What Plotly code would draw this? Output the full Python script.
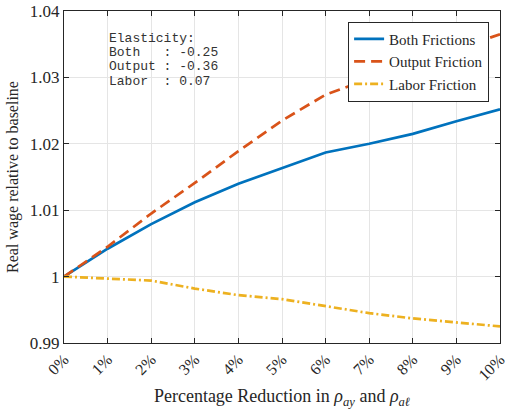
import plotly.graph_objects as go

x_vals = [0, 1, 2, 3, 4, 5, 6, 7, 8, 9, 10]
x_labels = ["0%", "1%", "2%", "3%", "4%", "5%", "6%", "7%", "8%", "9%", "10%"]
both = [1.0000, 1.0042, 1.0079, 1.0112, 1.0140, 1.0164, 1.0187, 1.0200, 1.0215, 1.0234, 1.0252]
output = [1.0000, 1.0045, 1.0095, 1.0141, 1.0189, 1.0235, 1.0274, 1.0298, 1.0320, 1.0342, 1.0365]
labor = [1.0000, 0.9997, 0.9994, 0.9982, 0.9972, 0.9966, 0.9956, 0.9945, 0.9937, 0.9931, 0.9925]
y_ticks = [0.99, 1.00, 1.01, 1.02, 1.03, 1.04]
y_labels = ["0.99", "1", "1.01", "1.02", "1.03", "1.04"]
elasticity_lines = ["Elasticity:", "Both   : -0.25", "Output : -0.36", "Labor  : 0.07"]

serif = "'Liberation Serif', 'DejaVu Serif', serif"
mono = "Liberation Mono"
txt = "#262626"

fig = go.Figure()
fig.add_trace(go.Scatter(x=x_vals, y=both, mode="lines", name="Both Frictions",
                         line=dict(color="#0072BD", width=2.7)))
fig.add_trace(go.Scatter(x=x_vals, y=output, mode="lines", name="Output Friction",
                         line=dict(color="#D95319", width=2.7, dash="11px,6px")))
fig.add_trace(go.Scatter(x=x_vals, y=labor, mode="lines", name="Labor Friction",
                         line=dict(color="#EDB120", width=2.7, dash="8px,3px,2px,3px")))

for i, line in enumerate(elasticity_lines):
    fig.add_annotation(xref="paper", yref="paper", x=0.099, y=0.945 - i * 0.0425,
                       xanchor="left", yanchor="top", showarrow=False,
                       text=line.replace(" ", "\u00a0"),
                       font=dict(family=mono, size=13, color="#333333"))

fig.update_layout(
    width=505, height=409,
    margin=dict(l=64, r=5, t=11, b=66),
    paper_bgcolor="white", plot_bgcolor="white",
    font=dict(family=serif, color=txt),
    showlegend=True,
    legend=dict(x=0.975, y=0.968, xanchor="right", yanchor="top",
                bgcolor="white", bordercolor="#262626", borderwidth=1,
                font=dict(family=serif, size=15, color=txt),
                tracegroupgap=0, itemwidth=30),
    xaxis=dict(range=[0, 10], tickmode="array", tickvals=x_vals, ticktext=x_labels,
               tickangle=-45, tickfont=dict(family=serif, size=16, color=txt),
               ticklabeloverflow="allow", automargin=False,
               showgrid=True, gridcolor="#e5e5e5", gridwidth=1,
               showline=True, linecolor="#262626", linewidth=1, mirror="ticks",
               ticks="inside", ticklen=5, tickcolor="#262626", zeroline=False,
               title=dict(text="Percentage Reduction in <i>ρ</i><sub><i>ay</i></sub> and <i>ρ</i><sub><i>aℓ</i></sub>",
                          font=dict(family=serif, size=18, color=txt), standoff=9)),
    yaxis=dict(range=[0.99, 1.04], tickmode="array", tickvals=y_ticks, ticktext=y_labels,
               tickfont=dict(family=serif, size=17, color=txt), automargin=False,
               showgrid=True, gridcolor="#e5e5e5", gridwidth=1,
               showline=True, linecolor="#262626", linewidth=1, mirror="ticks",
               ticks="inside", ticklen=5, tickcolor="#262626", zeroline=False,
               title=dict(text="Real wage relative to baseline",
                          font=dict(family=serif, size=16, color=txt), standoff=7)),
)

fig.write_html("out.html")
